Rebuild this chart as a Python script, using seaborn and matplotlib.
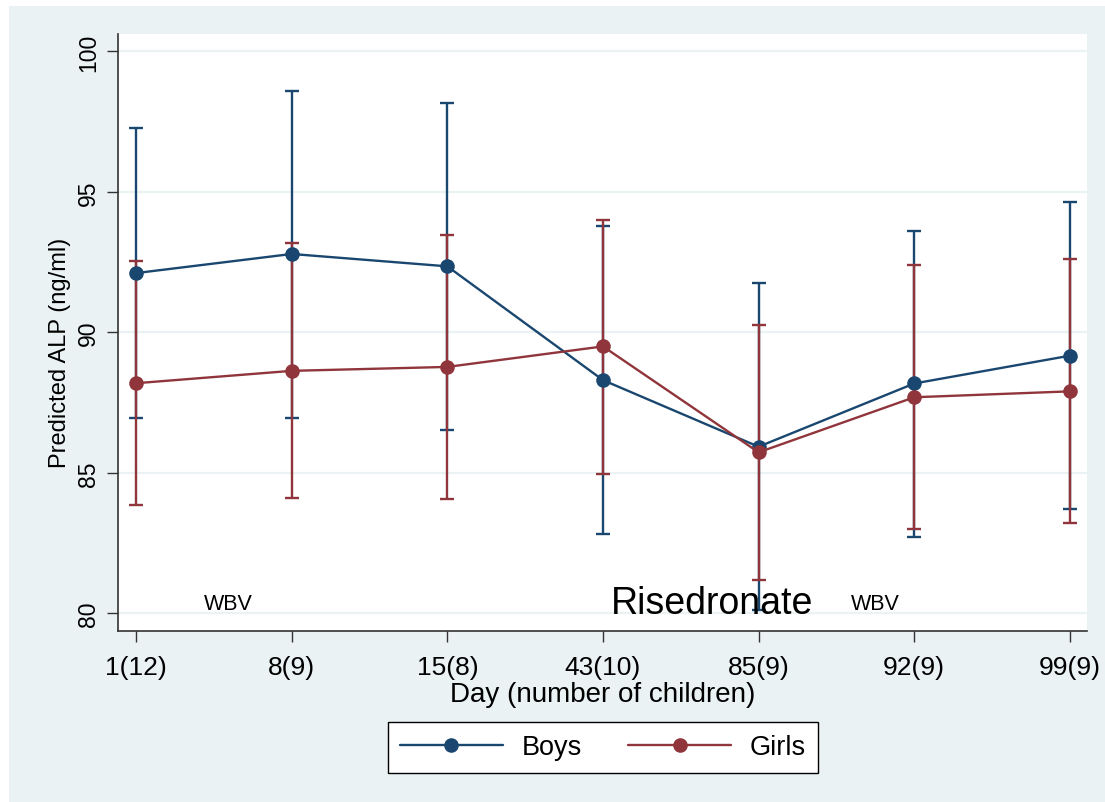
import matplotlib
matplotlib.use("Agg")
import matplotlib.pyplot as plt
import seaborn as sns
import numpy as np
import pandas as pd
from matplotlib.patches import Rectangle

# data
days = ["1(12)", "8(9)", "15(8)", "43(10)", "85(9)", "92(9)", "99(9)"]
boys_mean = [92.11, 92.79, 92.35, 88.30, 85.93, 88.18, 89.17]
boys_lo = [86.96, 86.96, 86.52, 82.84, 80.12, 82.72, 83.70]
boys_hi = [97.26, 98.60, 98.16, 93.77, 91.74, 93.60, 94.63]
girls_mean = [88.19, 88.63, 88.77, 89.50, 85.73, 87.69, 87.90]
girls_lo = [83.84, 84.10, 84.08, 84.97, 81.17, 83.00, 83.21]
girls_hi = [92.54, 93.17, 93.47, 94.01, 90.26, 92.40, 92.60]
yticks = [80, 85, 90, 95, 100]

navy = "#1A476F"
maroon = "#90353B"
bg = "#EAF2F3"

sns.set_style("white")
plt.rcParams["font.family"] = ["Liberation Sans", "DejaVu Sans"]
plt.rcParams["text.color"] = "black"
plt.rcParams["xtick.color"] = "black"
plt.rcParams["ytick.color"] = "black"
plt.rcParams["axes.labelcolor"] = "black"

pos = np.arange(len(days))
df = pd.DataFrame({
    "pos": np.concatenate([pos, pos]),
    "alp": boys_mean + girls_mean,
    "sex": ["Boys"] * len(days) + ["Girls"] * len(days),
})

fig = plt.figure(figsize=(11.05, 8.03), dpi=100)
fig.patch.set_facecolor("white")
fig.patches.append(Rectangle((9 / 1105, 0), 1, 1 - 7 / 803, transform=fig.transFigure,
                             facecolor=bg, edgecolor="none", zorder=-10))

ax = fig.add_axes([118 / 1105, (803 - 632) / 803, (1087 - 118) / 1105, (632 - 35) / 803])
ax.set_facecolor("white")

# confidence intervals (boys first, girls on top)
for m, lo, hi, c in [(boys_mean, boys_lo, boys_hi, navy), (girls_mean, girls_lo, girls_hi, maroon)]:
    m = np.array(m)
    ax.errorbar(pos, m, yerr=[m - np.array(lo), np.array(hi) - m], fmt="none",
                ecolor=c, elinewidth=1.7, capsize=5, capthick=1.7, zorder=2)

sns.lineplot(data=df, x="pos", y="alp", hue="sex", palette=[navy, maroon],
             marker="o", markersize=10.5, markeredgewidth=0, linewidth=1.7,
             ax=ax, zorder=3, legend=False)

ax.set_xlim(-0.116, 6.11)
ax.set_ylim(79.37, 100.62)
ax.set_yticks(yticks)
ax.set_xticks(pos)
ax.set_xticklabels(days)
ax.set_yticklabels([str(t) for t in yticks], rotation=90, va="center")
ax.tick_params(axis="both", length=8, width=1, color="#333333",
               direction="out", left=True, bottom=True)
ax.tick_params(axis="x", labelsize=19, pad=9)
ax.tick_params(axis="y", labelsize=16.5, pad=5)
ax.grid(axis="y", color=bg, linewidth=1.6)
ax.set_axisbelow(True)
for s in ["top", "right"]:
    ax.spines[s].set_visible(False)
for s in ["left", "bottom"]:
    ax.spines[s].set_color("#333333")
    ax.spines[s].set_linewidth(1.2)

ax.set_xlabel("Day (number of children)", fontsize=20, labelpad=2)
ax.set_ylabel("Predicted ALP (ng/ml)", fontsize=17)
ax.yaxis.set_label_coords(-0.048, 0.468)

ax.text(0.59, 80.17, "WBV", fontsize=15.5, ha="center", va="baseline")
ax.text(3.70, 80.0, "Risedronate", fontsize=27, ha="center", va="baseline")
ax.text(4.75, 80.17, "WBV", fontsize=15.5, ha="center", va="baseline")

handles = [plt.Line2D([], [], color=navy, marker="o", markersize=10.5, lw=1.7, markeredgewidth=0),
           plt.Line2D([], [], color=maroon, marker="o", markersize=10.5, lw=1.7, markeredgewidth=0)]
leg = fig.legend(handles, ["Boys", "Girls"], loc="center", ncol=2,
                 bbox_to_anchor=(603 / 1105, (803 - 748.5) / 803), fontsize=19.5,
                 frameon=True, fancybox=False, edgecolor="black", facecolor="white",
                 framealpha=1, handlelength=3.8, columnspacing=1.7, handletextpad=0.7,
                 borderpad=0.45)
leg.get_frame().set_linewidth(1.0)

fig.savefig("out.png", dpi=100, facecolor=fig.get_facecolor())
